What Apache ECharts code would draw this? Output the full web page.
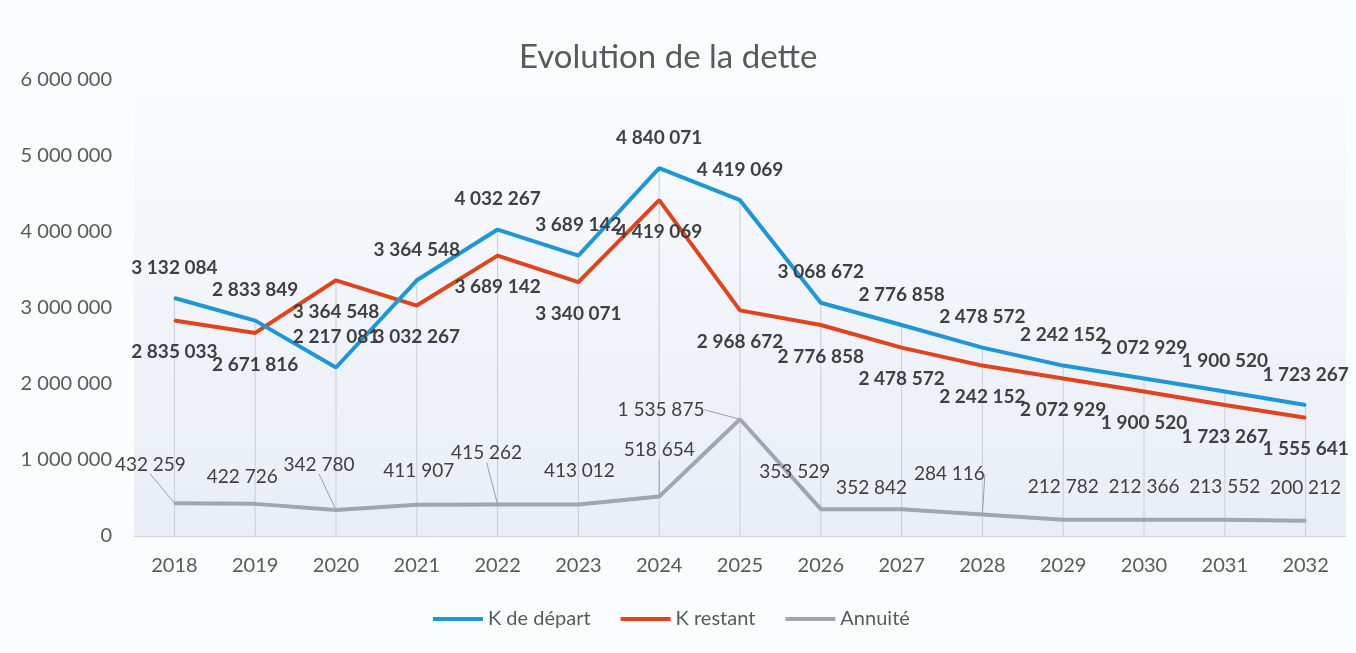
<!DOCTYPE html>
<html>
<head>
<meta charset="utf-8">
<title>Evolution de la dette</title>
<script src="https://cdn.jsdelivr.net/npm/echarts@6/dist/echarts.min.js"></script>
<style>
  html, body { margin: 0; padding: 0; background: #fbfcfd; }
  #chart { width: 1356px; height: 653px; }
</style>
</head>
<body>
<div id="chart"></div>
<script>
const years = ['2018', '2019', '2020', '2021', '2022', '2023', '2024', '2025',
  '2026', '2027', '2028', '2029', '2030', '2031', '2032']
const kDepart = [3132084, 2833849, 2217081, 3364548, 4032267, 3689142, 4840071, 4419069,
  3068672, 2776858, 2478572, 2242152, 2072929, 1900520, 1723267]
const kRestant = [2835033, 2671816, 3364548, 3032267, 3689142, 3340071, 4419069, 2968672,
  2776858, 2478572, 2242152, 2072929, 1900520, 1723267, 1555641]
const annuite = [432259, 422726, 342780, 411907, 415262, 413012, 518654, 1535875,
  353529, 352842, 284116, 212782, 212366, 213552, 200212]

// label nudges for the Annuité series (Excel had moved them by hand)
const annuiteShift = [[-24, -23], [-13, -11], [-17, -30], [2, -18], [-11, -36], [1, -18], [0, -31], [-79, 6],
  [-26, -22], [-30, -6], [-33, -25], [0, -17], [0, -17], [0, -17], [0, -17]]
// only the labels that were dragged far keep a leader line
const withLeader = [0, 2, 4, 6, 7, 8, 10]

// drop lines go from the highest point of each year down to the axis
const dropTop = kDepart.map((v, i) => Math.max(v, kRestant[i]))

const fmt = (n) => String(n).replace(/\B(?=(\d{3})+(?!\d))/g, ' ')
const font = 'Lato, "Open Sans", sans-serif'
const textColor = '#404040'

const chart = echarts.init(document.getElementById('chart'))

const lineSeries = (name, data, color, label, extra) => Object.assign({
  name,
  type: 'line',
  data,
  symbol: 'circle',
  symbolSize: 2,
  showSymbol: true,
  color,
  itemStyle: { color },
  lineStyle: { width: 4, color },
  label: Object.assign({
    show: true,
    formatter: (p) => fmt(p.value),
    fontSize: 19,
    color: textColor,
    fontFamily: font,
  }, label),
}, extra)

chart.setOption({
  backgroundColor: '#fbfcfd',
  animation: false,
  textStyle: { fontFamily: font },
  title: {
    text: 'Evolution de la dette',
    left: 514,
    top: 36,
    textStyle: { fontSize: 33, fontWeight: 'normal', color: '#595959', fontFamily: font },
  },
  legend: {
    data: ['K de départ', 'K restant', 'Annuité'],
    bottom: 24,
    left: 433,
    padding: 0,
    itemWidth: 50,
    itemHeight: 4,
    itemGap: 30,
    icon: 'rect',
    textStyle: { fontSize: 20, color: '#595959', fontFamily: font },
  },
  grid: {
    left: 134,
    right: 10,
    top: 80,
    bottom: 117,
    show: true,
    borderWidth: 0,
    backgroundColor: new echarts.graphic.LinearGradient(0, 0, 0, 1, [
      { offset: 0, color: '#fbfcfe' },
      { offset: 0.5, color: '#f1f4f9' },
      { offset: 1, color: '#e9eef6' },
    ]),
  },
  xAxis: {
    type: 'category',
    data: years,
    axisLine: { lineStyle: { color: '#d4d8de', width: 1 } },
    axisTick: { show: false },
    axisLabel: { fontSize: 20, color: '#595959', margin: 20, fontFamily: font },
    splitLine: { show: false },
  },
  yAxis: {
    type: 'value',
    min: 0,
    max: 6000000,
    interval: 1000000,
    axisLine: { show: false },
    axisTick: { show: false },
    splitLine: { show: false },
    axisLabel: { fontSize: 20, color: '#595959', margin: 22, formatter: fmt, fontFamily: font },
  },
  series: [
    {
      name: 'drop',
      type: 'bar',
      data: dropTop,
      barWidth: 1,
      barGap: '-100%',
      silent: true,
      itemStyle: { color: '#c9cdd6' },
      z: 1,
    },
    lineSeries('K de départ', kDepart, '#1e96d8',
      { position: 'top', distance: 20, fontWeight: 'bold' }, { z: 4 }),
    lineSeries('K restant', kRestant, '#e0441e',
      { position: 'bottom', distance: 21, fontWeight: 'bold' }, { z: 3 }),
    lineSeries('Annuité',
      annuite.map((v, i) => ({ value: v, labelLine: { show: withLeader.includes(i) } })),
      '#a0a5ae',
      { position: 'top', distance: 5 },
      {
        z: 3,
        labelLine: { show: true, lineStyle: { color: '#9a9ea6', width: 1 } },
        labelLayout: (p) => ({ dx: annuiteShift[p.dataIndex][0], dy: annuiteShift[p.dataIndex][1] }),
      }),
  ],
})

window.addEventListener('resize', () => chart.resize())
</script>
</body>
</html>
